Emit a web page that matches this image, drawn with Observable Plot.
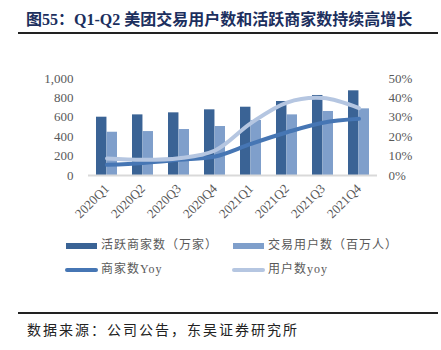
<!DOCTYPE html>
<html><head><meta charset="utf-8">
<script src="https://cdn.jsdelivr.net/npm/d3@7"></script>
<script src="https://cdn.jsdelivr.net/npm/@observablehq/plot@0.6"></script>
<style>
body{margin:0;background:#fff;}
#wrap{position:relative;width:441px;height:350px;overflow:hidden;background:#fff;}
#title{position:absolute;left:26px;top:6px;font-family:"Liberation Serif","Noto Sans CJK SC",serif;font-weight:bold;font-size:16px;color:#1c2f5e;white-space:nowrap;}
#rule1{position:absolute;left:18px;top:32px;width:420px;height:2px;background:#222;}
#rule2{position:absolute;left:18px;top:312px;width:420px;height:1.5px;background:#222;}
#source{position:absolute;left:27px;top:319px;font-family:"Noto Sans CJK SC",sans-serif;font-size:14px;letter-spacing:2px;color:#222;white-space:nowrap;}
#chart{position:absolute;left:0;top:60px;}
#chart svg text{font-family:"Liberation Serif",serif;}
.lg{position:absolute;font-family:"Liberation Serif","Noto Sans CJK SC",serif;font-size:12px;color:#595959;white-space:nowrap;letter-spacing:1px;line-height:14px;}
.sw{position:absolute;}
</style></head><body><div id="wrap">
<div id="title">图55：Q1-Q2 美团交易用户数和活跃商家数持续高增长</div>
<div id="rule1"></div>
<div id="chart"></div>
<div id="legend"></div>
<div id="rule2"></div>
<div id="source">数据来源：公司公告，东吴证券研究所</div>
</div>
<script>
const quarters = ["2020Q1","2020Q2","2020Q3","2020Q4","2021Q1","2021Q2","2021Q3","2021Q4"];
const merchants = [601, 625, 646, 677, 704, 763, 825, 873];
const users = [446, 453, 474, 505, 567, 625, 660, 687];
const merchantYoy = [5.5, 6.5, 8.1, 9.8, 16.3, 22.3, 27.2, 29.2];
const userYoy = [8.8, 8.1, 8.9, 12.9, 27.0, 37.6, 39.9, 34.7];
const seriesNames = ["活跃商家数（万家）", "交易用户数（百万人）", "商家数Yoy", "用户数yoy"];
const leftTicks = [0, 200, 400, 600, 800, 1000];
const rightTicks = [0, 10, 20, 30, 40, 50];

const colors = ["#3a6395", "#7f9fcb", "#4676b4", "#b5c6e1"];
const pctToLeft = 1000 / 50;

const barsM = quarters.map((q, i) => ({q, v: merchants[i]}));
const barsU = quarters.map((q, i) => ({q, v: users[i]}));
const lineM = quarters.map((q, i) => ({q, v: merchantYoy[i] * pctToLeft}));
const lineU = quarters.map((q, i) => ({q, v: userYoy[i] * pctToLeft}));

const plot = Plot.plot({
  width: 441,
  height: 165,
  marginLeft: 88,
  marginRight: 64,
  marginTop: 18,
  marginBottom: 50,
  style: {fontFamily: "'Liberation Serif', serif", fontSize: "13px", color: "#595959", background: "transparent"},
  x: {domain: quarters, paddingInner: 0.415, paddingOuter: 0.2075, label: null},
  y: {domain: [0, 1000], label: null},
  marks: [
    Plot.barY(barsM, {x: "q", y: "v", fill: colors[0], insetRight: 10.55}),
    Plot.barY(barsU, {x: "q", y: "v", fill: colors[1], insetLeft: 10.55}),
    Plot.ruleY([0], {stroke: "#d9d9d9", strokeWidth: 2}),
    Plot.line(lineM, {x: "q", y: "v", stroke: colors[2], strokeWidth: 4, curve: "catmull-rom"}),
    Plot.line(lineU, {x: "q", y: "v", stroke: colors[3], strokeWidth: 4, curve: "catmull-rom"}),
    Plot.axisY(leftTicks, {anchor: "left", tickSize: 0, tickPadding: 15, tickFormat: d => d3.format(",")(d), label: null}),
    Plot.axisY(rightTicks.map(p => p * pctToLeft), {anchor: "right", tickSize: 0, tickPadding: 11, tickFormat: d => (d / pctToLeft) + "%", label: null}),
    Plot.axisX({tickRotate: -45, tickSize: 0, tickPadding: 11, label: null})
  ]
});
document.getElementById("chart").appendChild(plot);

// legend
const legend = document.getElementById("legend");
const items = [
  {x: 66, y: 246, type: "bar"},
  {x: 233, y: 246, type: "bar"},
  {x: 66, y: 270, type: "line"},
  {x: 233, y: 270, type: "line"}
];
items.forEach((it, i) => {
  const sw = document.createElement("div");
  sw.className = "sw";
  if (it.type === "bar") {
    sw.style.cssText = `left:${it.x}px;top:${it.y - 3}px;width:31px;height:6px;background:${colors[i]};`;
  } else {
    sw.style.cssText = `left:${it.x - 1}px;top:${it.y - 2}px;width:33px;height:4px;border-radius:2px;background:${colors[i]};`;
  }
  legend.appendChild(sw);
  const t = document.createElement("div");
  t.className = "lg";
  t.style.left = (it.x + 35) + "px";
  t.style.top = (it.y - 8) + "px";
  t.textContent = seriesNames[i];
  legend.appendChild(t);
});
</script>
</body></html>
